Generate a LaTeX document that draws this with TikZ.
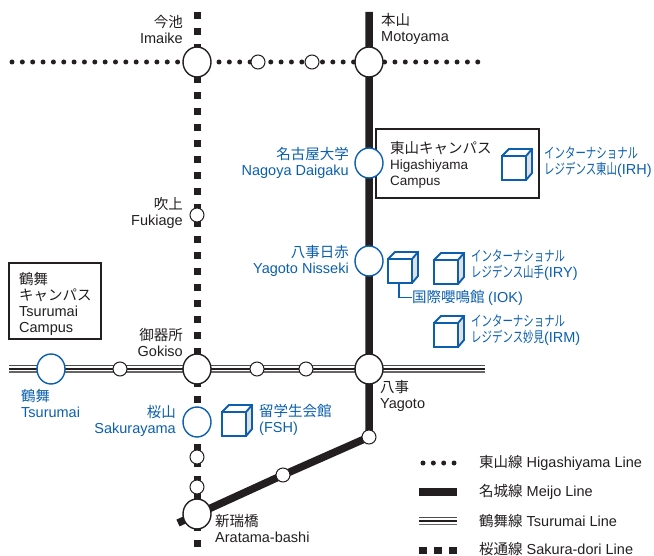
\documentclass[tikz,border=0pt]{standalone}
\usepackage{fontspec}
\usepackage{tikz}
\usetikzlibrary{positioning}
\usetikzlibrary{backgrounds}
\usetikzlibrary{shapes.geometric}
\setmainfont{Liberation Sans}
\newfontfamily\jpfont{Noto Sans CJK JP}
\newfontfamily\jpnarrowfont[FakeStretch=0.72]{Noto Sans CJK JP}
\definecolor{inkblack}{HTML}{231F20}
\definecolor{inkblue}{HTML}{0B5FAE}

\newcommand{\jp}[1]{{\jpfont #1}}
\newcommand{\jpn}[1]{{\jpnarrowfont #1}}

\tikzset{
cubeicon/.pic={
\fill[black!12] (24,0) -- (30,-7) -- (30,-31) -- (24,-24) -- cycle;
\draw[inkblue, line width=1.9pt, line join=miter] (0,0) rectangle (24,-24);
\draw[inkblue, line width=1.9pt] (0,-24) -- (7,-31) -- (30,-31) -- (30,-7) -- (24,0);
\draw[inkblue, line width=1.9pt] (24,-24) -- (30,-31);
}}

\begin{document}
\begin{tikzpicture}[x=1pt, y=-1pt,
bigstation/.style={ellipse, on grid, draw=inkblack, fill=white, line width=1.4pt, minimum width=28pt, minimum height=30pt, inner sep=0pt},
campusstation/.style={ellipse, on grid, draw=inkblue, fill=white, line width=1.4pt, minimum width=28pt, minimum height=30pt, inner sep=0pt},
smallstation/.style={circle, on grid, draw=inkblack, fill=white, line width=1pt, minimum size=14pt, inner sep=0pt},
blacklabel/.style={text=inkblack, inner sep=0pt, font=\fontsize{14.5}{16}\selectfont},
bluelabel/.style={text=inkblue, inner sep=0pt, font=\fontsize{14.5}{16}\selectfont},
campusbox/.style={draw=inkblack, line width=1.6pt},
higashiyamaline/.style={line width=5pt, inkblack, line cap=round, dash pattern=on 0pt off 10.35pt},
meijoline/.style={line width=7.5pt, inkblack},
sakuraline/.style={line width=7pt, inkblack, dash pattern=on 7pt off 9pt},
tsurumaitop/.style={line width=1.2pt, black!70},
tsurumaimid/.style={line width=2.2pt, inkblack},
tsurumailow/.style={line width=1.8pt, black!60},
iokleader/.style={draw=inkblue, line width=1.4pt},
]
\useasboundingbox (0,0) rectangle (654,556);

% Interchange stations
\node[bigstation]      (imaike)    at (197,62)                 {};
\node[bigstation]      (motoyama)  at (369,62)                 {};
\node[bigstation]      (gokiso)    at (197,369)                {};
\node[bigstation]      (yagoto)    at (369,369)                {};
\node[bigstation]      (aratama)   at (197,514)                {};

% Campus stations
\node[campusstation]   (nagoyadaigaku)  [below=101pt of motoyama]  {};
\node[campusstation]   (yagotonisseki)  [below=199pt of motoyama]  {};
\node[campusstation]   (tsurumai)       [left=146pt of gokiso]     {};
\node[campusstation]   (sakurayama)     [below=53pt of gokiso]     {};

% Small stations
\node[smallstation]    (higashione)  [right=61pt of imaike]   {};
\node[smallstation]    (higashitwo)  [right=115pt of imaike]  {};
\node[smallstation]    (fukiage)     [below=153pt of imaike]  {};
\node[smallstation]    (tsuruone)    [left=77pt of gokiso]    {};
\node[smallstation]    (tsurutwo)    [right=60pt of gokiso]   {};
\node[smallstation]    (tsuruthree)  [right=109pt of gokiso]  {};
\node[smallstation]    (sakuraone)   [below=88pt of gokiso]   {};
\node[smallstation]    (sakuratwo)   [below=118pt of gokiso]  {};
\node[smallstation]    (meijoone)    [below=68pt of yagoto]   {};
\node[smallstation]    (meijotwo)    [left=86pt of meijoone, yshift=-38pt] {};

% Free ends of the lines
\coordinate (higashiwest) at (12,62);
\coordinate (higashieast) at (480,62);
\coordinate (meijonorth)  at (369,12);
\coordinate (meijosouth)  at (178,523);
\coordinate (sakuranorth) at (197,12);
\coordinate (sakurasouth) at (197,547);
\coordinate (tsuruwest)   at (9,369);
\coordinate (tsurueast)   at (485,369);

% Lines run behind the stations
\begin{scope}[on background layer]
\node[campusbox, minimum width=163pt, minimum height=69pt] (higashibox) at (457.5,163.5) {};
\draw[higashiyamaline] (higashiwest) -- (higashieast);
\draw[sakuraline] (sakuranorth) -- (sakurasouth);
\draw[meijoline, line join=round] (meijonorth) -- (motoyama.center) -- (yagoto.center) -- (meijoone.center) -- (meijotwo.center) -- (meijosouth);
\draw[tsurumaitop] ([yshift=3.4pt]tsuruwest) -- ([yshift=3.4pt]tsurueast);
\draw[tsurumaimid] (tsuruwest) -- (tsurueast);
\draw[tsurumailow] ([yshift=-3.4pt]tsuruwest) -- ([yshift=-3.4pt]tsurueast);
\end{scope}

% Station labels
\node[blacklabel, align=right, anchor=east] (imaikelabel)   at (183,29)  {\jp{今池}\\Imaike};
\node[blacklabel, align=left,  anchor=west] (motoyamalabel) at (381,29)  {\jp{本山}\\Motoyama};
\node[blacklabel, align=right, anchor=east] (fukiagelabel)  at (183,213) {\jp{吹上}\\Fukiage};
\node[blacklabel, align=right, anchor=east] (gokisolabel)   at (183,342) {\jp{御器所}\\Gokiso};
\node[blacklabel, align=left,  anchor=west] (yagotolabel)   at (380,396) {\jp{八事}\\Yagoto};
\node[blacklabel, align=left,  anchor=west] (aratamalabel)  at (215,528) {\jp{新瑞橋}\\Aratama-bashi};
\node[bluelabel,  align=right, anchor=east] (nagoyalabel)   at (349,163) {\jp{名古屋大学}\\Nagoya Daigaku};
\node[bluelabel,  align=right, anchor=east] (nissekilabel)  at (349,261) {\jp{八事日赤}\\Yagoto Nisseki};
\node[bluelabel,  align=left,  anchor=west] (tsurumailabel) at (21,403)  {\jp{鶴舞}\\Tsurumai};
\node[bluelabel,  align=right, anchor=east] (sakuralabel)   at (176,421) {\jp{桜山}\\Sakurayama};

% Campus boxes
\node[blacklabel, align=left, anchor=west, font=\fontsize{13.5}{16}\selectfont] (higashilabel) at (390,165) {\fontsize{14.5}{16}\selectfont\jp{東山キャンパス}\\Higashiyama\\Campus};
\node[campusbox, minimum width=92pt, minimum height=76pt] (tsurubox) at (55,301) {};
\node[blacklabel, align=left, anchor=west] (tsurulabel) at (19,303.5) {\jp{鶴舞}\\\jp{キャンパス}\\Tsurumai\\Campus};

% Residences
\pic at (502,180) {cubeicon};
\pic at (388,283) {cubeicon};
\pic at (434,284) {cubeicon};
\pic at (434,347) {cubeicon};
\pic at (222,436) {cubeicon};
\node[bluelabel, align=left, anchor=west] (irhlabel) at (544,162) {\jpn{インターナショナル}\\\jpn{レジデンス東山}(IRH)};
\node[bluelabel, align=left, anchor=west] (irylabel) at (471,265) {\jpn{インターナショナル}\\\jpn{レジデンス山手}(IRY)};
\node[bluelabel, align=left, anchor=west] (irmlabel) at (471,330) {\jpn{インターナショナル}\\\jpn{レジデンス妙見}(IRM)};
\node[bluelabel, align=left, anchor=west] (ioklabel) at (412,297.5) {\jp{国際嚶鳴館}\hspace{3.5pt}(IOK)};
\node[bluelabel, align=left, anchor=west] (fshlabel) at (259,420) {\jp{留学生会館}\\(FSH)};
\coordinate (iokcube) at (399,283);
\draw[iokleader] (iokcube) |- (ioklabel.west);

% Legend
\coordinate (legendonea) at (423,463);
\coordinate (legendoneb) at (456,463);
\coordinate (legendtwoa) at (419,492);
\coordinate (legendtwob) at (457,492);
\coordinate (legendthreea) at (419,521);
\coordinate (legendthreeb) at (457,521);
\coordinate (legendfoura) at (419,550);
\coordinate (legendfourb) at (457,550);
\draw[higashiyamaline] (legendonea) -- (legendoneb);
\draw[meijoline] (legendtwoa) -- (legendtwob);
\draw[tsurumaitop] ([yshift=3.4pt]legendthreea) -- ([yshift=3.4pt]legendthreeb);
\draw[tsurumaimid] (legendthreea) -- (legendthreeb);
\draw[tsurumailow] ([yshift=-3.4pt]legendthreea) -- ([yshift=-3.4pt]legendthreeb);
\draw[sakuraline, dash pattern=on 7.5pt off 7.5pt] (legendfoura) -- (legendfourb);
\node[blacklabel, anchor=west] (legendone)   at (479,463) {\jp{東山線} Higashiyama Line};
\node[blacklabel, anchor=west] (legendtwo)   at (479,492) {\jp{名城線} Meijo Line};
\node[blacklabel, anchor=west] (legendthree) at (479,520.5) {\jp{鶴舞線} Tsurumai Line};
\node[blacklabel, anchor=west] (legendfour)  at (479,548.5) {\jp{桜通線} Sakura-dori Line};
\end{tikzpicture}
\end{document}
